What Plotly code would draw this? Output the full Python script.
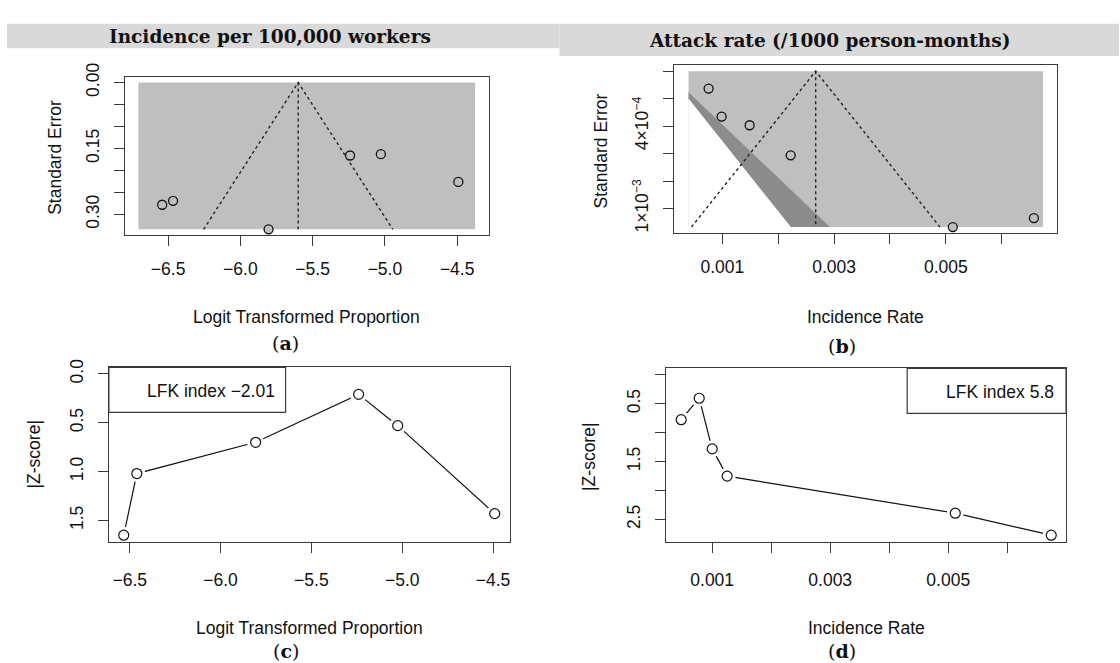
import numpy as np
import plotly.graph_objects as go

W, H = 1120, 663

# ---------------- data ----------------
# (a) funnel plot: logit transformed proportion vs standard error
a_x = [-6.541, -6.466, -5.805, -5.241, -5.028, -4.492]
a_se = [0.278, 0.269, 0.334, 0.166, 0.163, 0.226]
a_center = -5.60
a_xlim = [-6.706, -4.376]
a_xticks = [-6.5, -6.0, -5.5, -5.0, -4.5]
a_xticklabels = ["−6.5", "−6.0", "−5.5", "−5.0", "−4.5"]
a_yticks = [0.0, 0.15, 0.30]
a_yticklabels = ["0.00", "0.15", "0.30"]
a_ystep = 0.05

# (b) contour-enhanced funnel plot: incidence rate vs standard error
b_x = [0.000753, 0.000986, 0.001487, 0.002222, 0.005125, 0.006577]
b_se = [0.000127, 0.000331, 0.000394, 0.000613, 0.001135, 0.001070]
b_center = 0.00267
b_xlim = [0.000394, 0.006738]
b_xticks = [0.001, 0.003, 0.005]
b_xticklabels = ["0.001", "0.003", "0.005"]
b_xstep = 0.001
b_yticks = [0.0004, 0.0010]
b_yticklabels = ["4×10<sup>−4</sup>", "1×10<sup>−3</sup>"]
b_ystep = 0.0002

# (c) Doi plot
c_x = [-6.533, -6.461, -5.807, -5.240, -5.025, -4.491]
c_z = [1.65, 1.02, 0.70, 0.21, 0.53, 1.43]
c_xticks = a_xticks
c_xticklabels = a_xticklabels
c_yticks = [0.0, 0.5, 1.0, 1.5]
c_yticklabels = ["0.0", "0.5", "1.0", "1.5"]
c_lfk = "LFK index −2.01"

# (d) Doi plot
d_x = [0.000475, 0.00078, 0.001, 0.001254, 0.00512, 0.006746]
d_z = [0.776, 0.405, 1.28, 1.75, 2.39, 2.77]
d_xticks = [0.001, 0.003, 0.005, 0.007]
d_xticklabels = ["0.001", "0.003", "0.005", "0.007"]
d_xstep = 0.001
d_yticks = [0.5, 1.5, 2.5]
d_yticklabels = ["0.5", "1.5", "2.5"]
d_ystep = 0.5
d_lfk = "LFK index 5.8"

titles = ["Incidence per 100,000 workers", "Attack rate (/1000 person-months)"]
panel_letters = ["a", "b", "c", "d"]

Z95, Z99 = 1.96, 2.576

# ---------------- helpers ----------------
def px(x):
    return x / W

def py(y):
    return 1 - y / H

def ext(lo, hi, f=0.04):
    d = (hi - lo) * f
    return [lo - d, hi + d]

LIGHT = "#BFBFBF"
DARK = "#8C8C8C"
AXC = "#3a3a3a"
SANS = "Liberation Sans, Arial, sans-serif"
SERIF = "DejaVu Serif, serif"
FS = 17.5

fig = go.Figure()

# ---------------- (a) ----------------
a_m = max(a_se)
fig.add_shape(type="rect", xref="x", yref="y", x0=a_xlim[0], x1=a_xlim[1], y0=0, y1=a_m,
              fillcolor=LIGHT, line=dict(width=0), layer="below")
fig.add_trace(go.Scatter(x=[a_center - Z95 * a_m, a_center, a_center + Z95 * a_m], y=[a_m, 0, a_m],
                         mode="lines", line=dict(color="#222", width=1.4, dash="dot"),
                         xaxis="x", yaxis="y", showlegend=False, hoverinfo="skip"))
fig.add_trace(go.Scatter(x=[a_center, a_center], y=[0, a_m], mode="lines",
                         line=dict(color="#222", width=1.4, dash="dot"),
                         xaxis="x", yaxis="y", showlegend=False, hoverinfo="skip"))
fig.add_trace(go.Scatter(x=a_x, y=a_se, mode="markers",
                         marker=dict(size=9, color="#BEBEBE", line=dict(color="#111", width=1.3)),
                         xaxis="x", yaxis="y", showlegend=False))

# ---------------- (b) ----------------
b_m = max(b_se)
xlo = b_xlim[0]
fig.add_shape(type="rect", xref="x2", yref="y2", x0=b_xlim[0], x1=b_xlim[1], y0=0, y1=b_m,
              fillcolor=LIGHT, line=dict(width=0), layer="below")
fig.add_trace(go.Scatter(x=[xlo, xlo, Z95 * b_m, Z99 * b_m, xlo],
                         y=[xlo / Z99, xlo / Z95, b_m, b_m, xlo / Z99],
                         mode="lines", fill="toself", fillcolor=DARK, line=dict(width=0),
                         xaxis="x2", yaxis="y2", showlegend=False, hoverinfo="skip"))
fig.add_trace(go.Scatter(x=[xlo, Z95 * b_m, xlo, xlo],
                         y=[xlo / Z95, b_m, b_m, xlo / Z95],
                         mode="lines", fill="toself", fillcolor="white", line=dict(width=0),
                         xaxis="x2", yaxis="y2", showlegend=False, hoverinfo="skip"))
fig.add_trace(go.Scatter(x=[b_center - Z95 * b_m, b_center, b_center + Z95 * b_m], y=[b_m, 0, b_m],
                         mode="lines", line=dict(color="#222", width=1.4, dash="dot"),
                         xaxis="x2", yaxis="y2", showlegend=False, hoverinfo="skip"))
fig.add_trace(go.Scatter(x=[b_center, b_center], y=[0, b_m], mode="lines",
                         line=dict(color="#222", width=1.4, dash="3px,3px"),
                         xaxis="x2", yaxis="y2", showlegend=False, hoverinfo="skip"))
fig.add_trace(go.Scatter(x=b_x, y=b_se, mode="markers",
                         marker=dict(size=9, color="#BEBEBE", line=dict(color="#111", width=1.3)),
                         xaxis="x2", yaxis="y2", showlegend=False))

# ---------------- (c) & (d) Doi plots ----------------
for xs, zs, xa, ya in [(c_x, c_z, "x3", "y3"), (d_x, d_z, "x4", "y4")]:
    fig.add_trace(go.Scatter(x=xs, y=zs, mode="lines", line=dict(color="#111", width=1.2),
                             xaxis=xa, yaxis=ya, showlegend=False, hoverinfo="skip"))
    fig.add_trace(go.Scatter(x=xs, y=zs, mode="markers",
                             marker=dict(size=17, color="white", line=dict(width=0)),
                             xaxis=xa, yaxis=ya, showlegend=False, hoverinfo="skip"))
    fig.add_trace(go.Scatter(x=xs, y=zs, mode="markers",
                             marker=dict(size=10, symbol="circle-open", color="#111",
                                         line=dict(color="#111", width=1.2)),
                             xaxis=xa, yaxis=ya, showlegend=False))

# LFK boxes
fig.add_shape(type="rect", xref="x3 domain", yref="y3 domain", x0=0, x1=0.441, y0=0.742, y1=1,
              line=dict(color=AXC, width=1.2), fillcolor="rgba(0,0,0,0)")
fig.add_shape(type="rect", xref="x4 domain", yref="y4 domain", x0=0.6025, x1=1, y0=0.740, y1=1,
              line=dict(color=AXC, width=1.2), fillcolor="rgba(0,0,0,0)")

# ---------------- axes ----------------
def minor(step, t0):
    if step is None:
        return dict(ticks="")
    return dict(ticks="outside", ticklen=10, tickwidth=1.2, tickcolor=AXC, dtick=step, tick0=t0,
                showgrid=False)

def axis(dom, rng, tv, tt, anchor, standoff, step=None, t0=0, yax=False):
    d = dict(domain=dom, range=rng, tickmode="array", tickvals=tv, ticktext=tt, anchor=anchor,
             showline=True, mirror=True, linecolor=AXC, linewidth=1.2,
             ticks="outside", ticklen=10, tickwidth=1.2, tickcolor=AXC,
             showgrid=False, zeroline=False, ticklabelstandoff=standoff,
             tickfont=dict(family=SANS, size=FS, color="#111"), minor=minor(step, t0))
    if yax:
        d["tickangle"] = -90
    return d

a_yr = ext(0, a_m)
b_yr = ext(0, b_m)
c_yr = ext(0, max(c_z))
d_yr = ext(0, max(d_z))

fig.update_layout(
    xaxis=axis([px(125), px(489)], ext(*a_xlim), a_xticks, a_xticklabels, "y", 8),
    yaxis=axis([py(226), py(64)], [a_yr[1], a_yr[0]], a_yticks, a_yticklabels, "x", 8,
               step=a_ystep, t0=0, yax=True),
    xaxis2=axis([px(675), px(1058)], ext(*b_xlim), b_xticks, b_xticklabels, "y2", 8,
                step=b_xstep, t0=0),
    yaxis2=axis([py(224), py(52)], [b_yr[1], b_yr[0]], b_yticks, b_yticklabels, "x2", 8,
                step=b_ystep, t0=0, yax=True),
    xaxis3=axis([px(109), px(510)], ext(min(c_x), max(c_x)), c_xticks, c_xticklabels, "y3", 12),
    yaxis3=axis([py(539), py(361)], [c_yr[1], c_yr[0]], c_yticks, c_yticklabels, "x3", 8, yax=True),
    xaxis4=axis([px(667), px(1067)], ext(min(d_x), max(d_x)), d_xticks, d_xticklabels, "y4", 12,
                step=d_xstep, t0=0),
    yaxis4=axis([py(539), py(362)], [d_yr[1], d_yr[0]], d_yticks, d_yticklabels, "x4", 8,
                step=d_ystep, t0=0, yax=True),
)

# ---------------- banners & text ----------------
fig.add_shape(type="rect", xref="paper", yref="paper", x0=px(7), x1=px(560), y0=py(35), y1=py(10),
              fillcolor="#D9D9D9", line=dict(width=0), layer="below")
fig.add_shape(type="rect", xref="paper", yref="paper", x0=px(560), x1=px(1120), y0=py(43), y1=py(10),
              fillcolor="#D9D9D9", line=dict(width=0), layer="below")

ann = []
def text(x, y, s, size=FS, family=SANS, angle=0, xanchor="center", weight="normal"):
    ann.append(dict(x=px(x), y=py(y), xref="paper", yref="paper", text=s, showarrow=False,
                    xanchor=xanchor, yanchor="middle", textangle=angle,
                    font=dict(family=family, size=size, color="#111", weight=weight)))

text(270, 23, titles[0], size=18.5, family=SERIF, weight="bold")
text(830, 27, titles[1], size=18.5, family=SERIF, weight="bold")

text(307, 310, "Logit Transformed Proportion")
text(866, 310, "Incidence Rate")
text(310, 627, "Logit Transformed Proportion")
text(867, 627, "Incidence Rate")

text(55, 146, "Standard Error", angle=-90)
text(602, 140, "Standard Error", angle=-90)
text(35, 450, "|Z-score|", angle=-90)
text(590, 452, "|Z-score|", angle=-90)

cap_pos = [(286, 336), (843, 339), (286, 651), (843, 651)]
for letter, (cx, cy) in zip(panel_letters, cap_pos):
    text(cx, cy, "(<b>" + letter + "</b>)", size=19, family=SERIF)

text(277, 385, c_lfk, xanchor="right")
text(1057, 386, d_lfk, xanchor="right")

fig.update_layout(annotations=ann, width=W, height=H, margin=dict(l=0, r=0, t=0, b=0),
                  paper_bgcolor="white", plot_bgcolor="white", showlegend=False)

fig.write_html("out.html")
